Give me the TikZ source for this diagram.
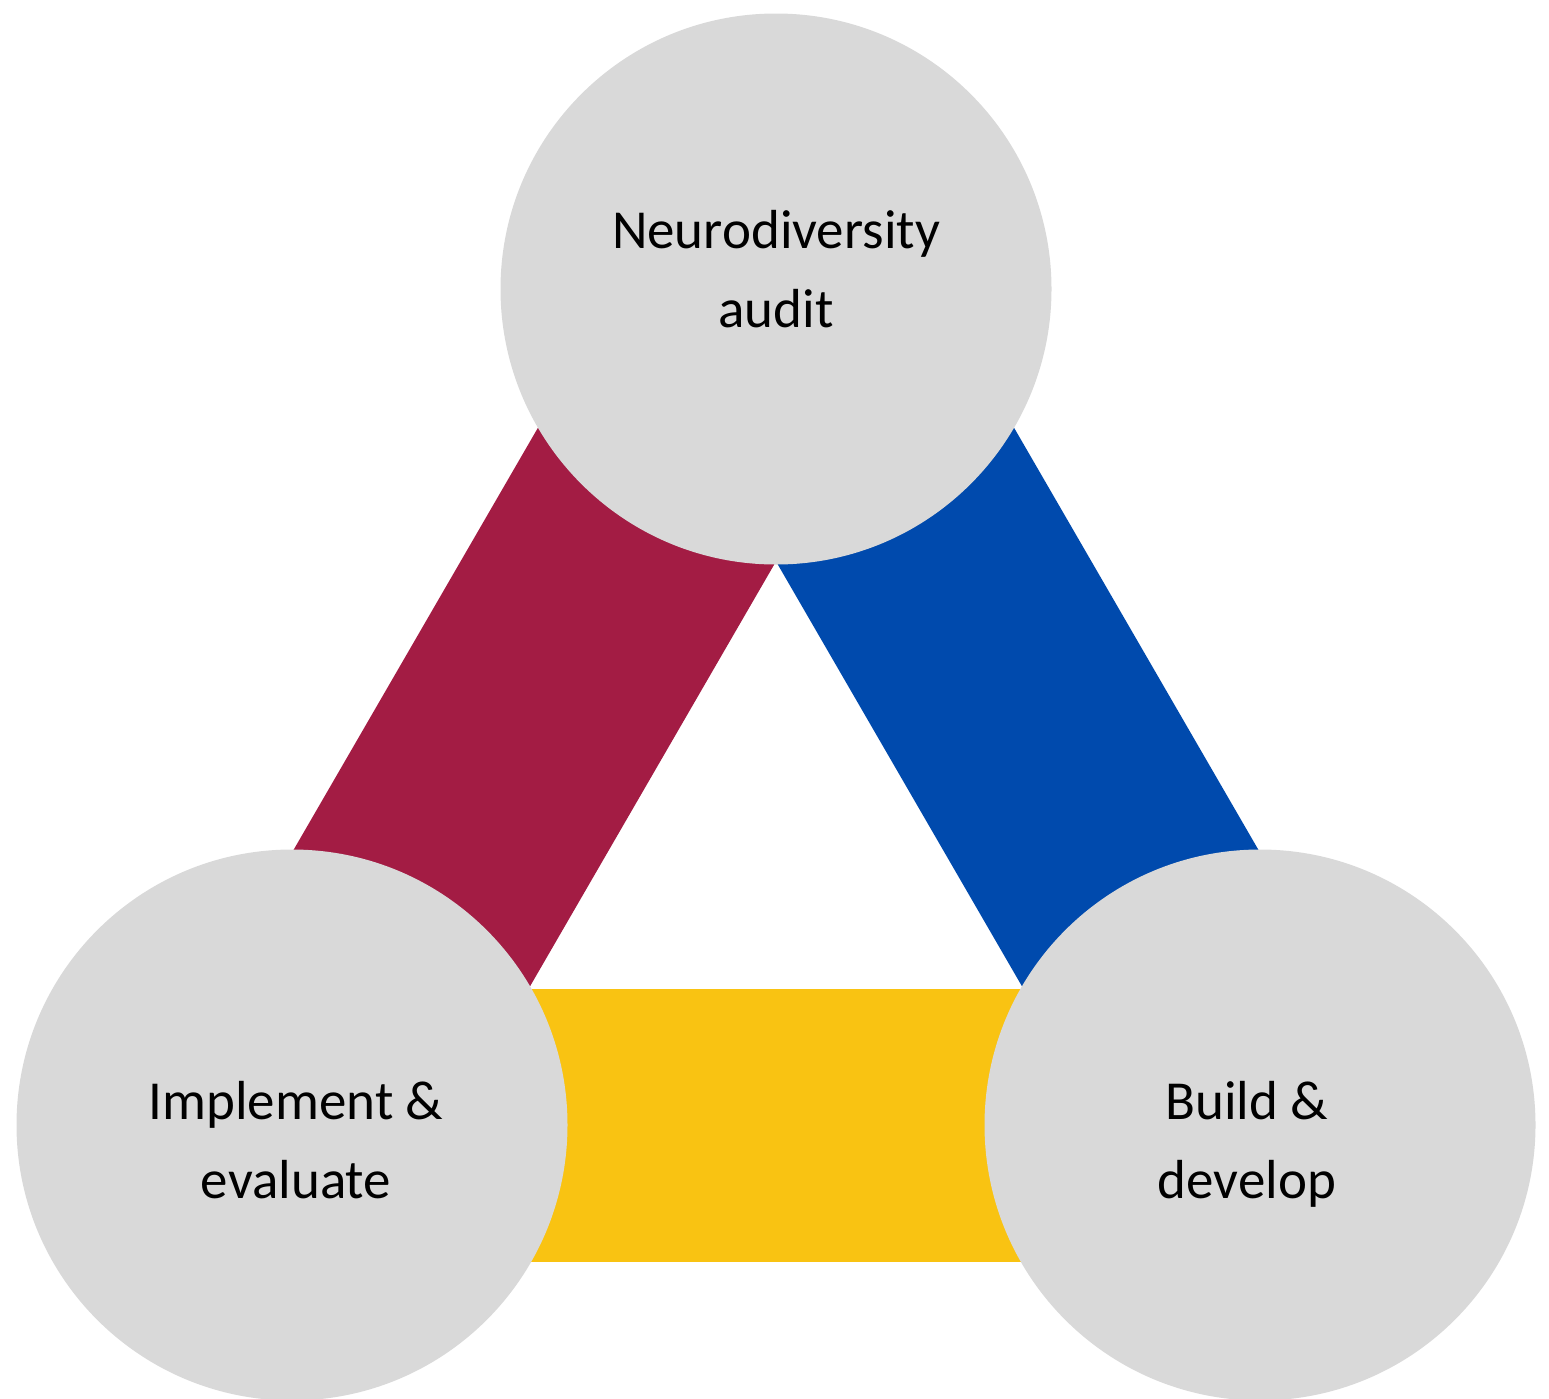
\documentclass[tikz,border=0pt]{standalone}
\usepackage{fontspec}
\setmainfont{Carlito}
\usetikzlibrary{backgrounds}
\definecolor{cgrey}{HTML}{D9D9D9}
\definecolor{cred}{HTML}{A31C44}
\definecolor{cblue}{HTML}{004AAD}
\definecolor{cyellow}{HTML}{F9C312}
\tikzset{
  stage/.style={circle, fill=cgrey, draw=none, minimum size=551pt, inner sep=0pt},
  band/.style={line width=273pt, line cap=butt},
  lab/.style={align=center, font=\fontsize{55}{79}\selectfont, text=black, inner sep=0pt, anchor=base}
}
\begin{document}
\begin{tikzpicture}[x=1pt,y=-1pt]
\useasboundingbox (0,0) rectangle (1549,1398);
\node[stage] (top) at (776,289) {};
\node[stage] (bl) at (292,1125) {};
\node[stage] (br) at (1260,1125) {};
\begin{scope}[on background layer]
\draw[band, cred] (top.center) -- (bl.center);
\draw[band, cblue] (top.center) -- (br.center);
\draw[band, cyellow] (bl.center) -- (br.center);
\end{scope}
\node[lab] (ttop) at (776,327) {Neurodiversity\\audit};
\node[lab] (tbl) at (296,1198) {Implement \&\\evaluate};
\node[lab] (tbr) at (1247,1198) {Build \&\\develop};
\end{tikzpicture}
\end{document}
